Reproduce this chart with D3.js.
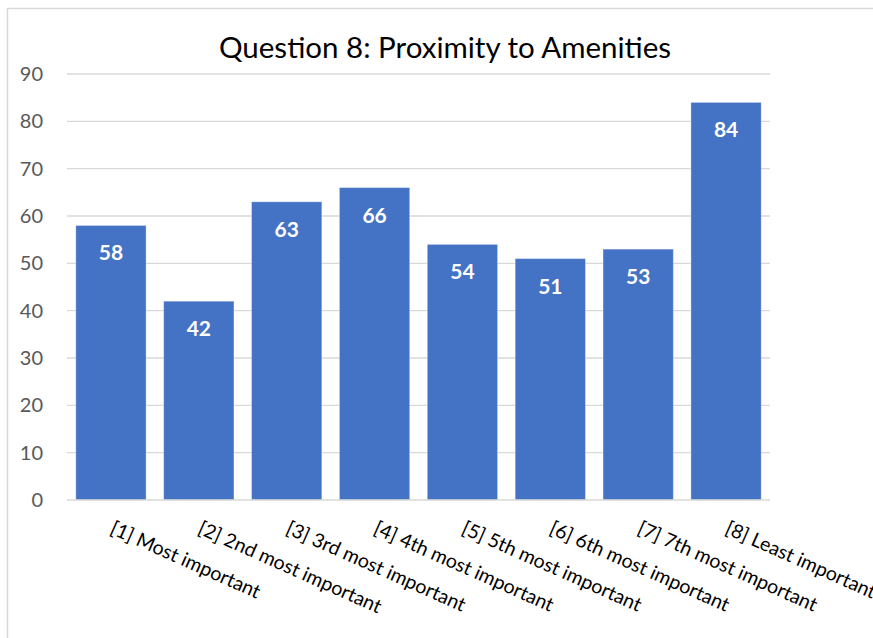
<!DOCTYPE html>
<html><head><meta charset="utf-8">
<script src="https://cdn.jsdelivr.net/npm/d3@7"></script>
<style>
html,body{margin:0;padding:0;background:#fff;}
svg{display:block;font-family:Lato, "Noto Sans", sans-serif;}
</style></head>
<body>
<svg id="c" width="873" height="638"></svg>
<script>
const categories = ["[1] Most important","[2] 2nd most important","[3] 3rd most important","[4] 4th most important","[5] 5th most important","[6] 6th most important","[7] 7th most important","[8] Least important"];
const values = [58, 42, 63, 66, 54, 51, 53, 84];
const yTicks = [0,10,20,30,40,50,60,70,80,90];
const title = "Question 8: Proximity to Amenities";

const svg = d3.select("#c");
const W = 873, H = 638;
const m = {left: 67, right: 103, top: 74, bottom: 138};

// chart border
svg.append("rect").attr("x",7.5).attr("y",8.5).attr("width",W).attr("height",H)
  .attr("fill","#fff").attr("stroke","#d9d9d9").attr("stroke-width",1.5);

const x = d3.scaleBand().domain(categories).range([m.left, W - m.right]).paddingInner(0.2).paddingOuter(0.1);
const y = d3.scaleLinear().domain([0,90]).range([H - m.bottom, m.top]);

// gridlines
svg.append("g").selectAll("line").data(yTicks.filter(d=>d>0)).join("line")
  .attr("x1", m.left).attr("x2", W - m.right)
  .attr("y1", d=>y(d)).attr("y2", d=>y(d))
  .attr("stroke","#d9d9d9").attr("stroke-width",1.3);

// y axis labels
const yAxis = d3.axisLeft(y).tickValues(yTicks).tickSize(0).tickPadding(24);
const ga = svg.append("g").attr("transform",`translate(${m.left},0)`).call(yAxis);
ga.select(".domain").remove();
ga.selectAll("text").attr("fill","#595959").style("font-size","20px").style("font-family","Lato, sans-serif");

// bars
svg.append("g").selectAll("rect").data(values).join("rect")
  .attr("x",(d,i)=>x(categories[i])).attr("width",x.bandwidth())
  .attr("y",d=>y(d)).attr("height",d=>y(0)-y(d))
  .attr("fill","#4472c4").attr("stroke","#ffffff").attr("stroke-opacity",0.35).attr("stroke-width",1);

// baseline
svg.append("line").attr("x1",m.left).attr("x2",W-m.right).attr("y1",y(0)).attr("y2",y(0))
  .attr("stroke","#d9d9d9").attr("stroke-width",1.5);

// data labels
svg.append("g").selectAll("text").data(values).join("text")
  .attr("x",(d,i)=>x(categories[i])+x.bandwidth()/2)
  .attr("y",d=>y(d)+35)
  .attr("text-anchor","middle").attr("fill","#fff")
  .style("font-size","21px").style("font-weight","bold")
  .text(d=>d);

// x labels
const xAxis = d3.axisBottom(x).tickSize(0).tickPadding(0);
const gx = svg.append("g").attr("transform",`translate(0,${y(0)})`).call(xAxis);
gx.select(".domain").remove();
gx.selectAll("text")
  .attr("text-anchor","start").attr("fill","#000")
  .attr("dy",null).attr("y",null)
  .attr("transform","translate(-2,33) rotate(24)")
  .style("font-size","19.5px").style("font-family","Lato, sans-serif");

// title
svg.append("text").attr("x",445).attr("y",58).attr("text-anchor","middle")
  .attr("fill","#000").style("font-size","29.5px").text(title);
</script>
</body></html>
